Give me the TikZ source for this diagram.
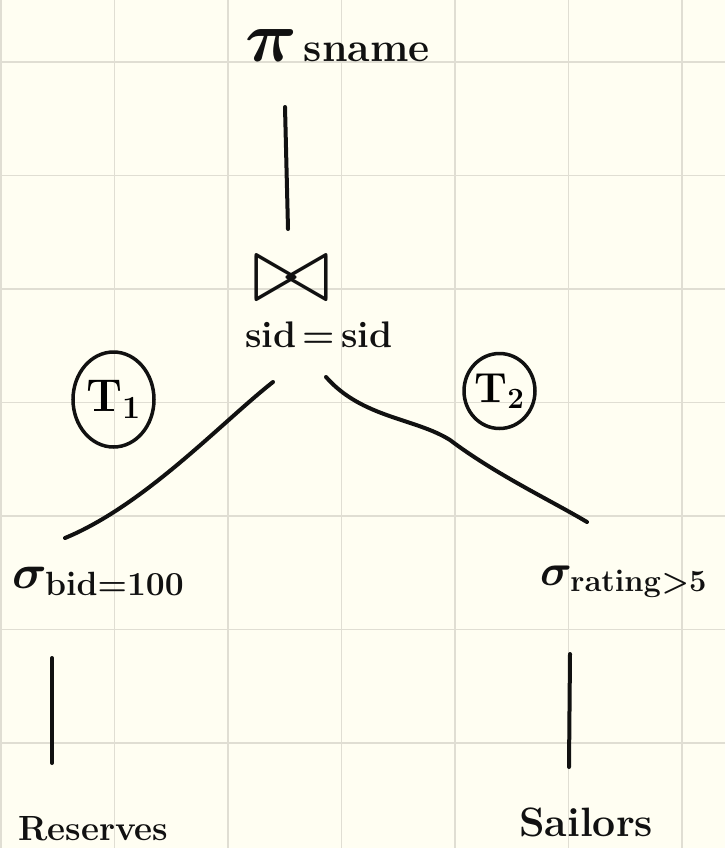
\RequirePackage{fix-cm}
\documentclass[tikz,border=0pt]{standalone}
\usetikzlibrary{shapes.geometric}
\definecolor{paper}{HTML}{FFFEF2}
\definecolor{gridc}{HTML}{E0DED3}
\definecolor{inkc}{HTML}{111111}
\begin{document}
\begin{tikzpicture}[x=1pt,y=-1pt,
  ink/.style={draw=inkc, line width=4pt, line cap=round, line join=round},
  lbl/.style={inner sep=0pt, text=inkc},
  ring/.style={draw=inkc, line width=3.5pt, ellipse, inner sep=0pt},
  gridline/.style={draw=gridc, line width=1.6pt}]
% paper and squared grid
\fill[paper] (0,0) rectangle (725,848);
\useasboundingbox (0,0) rectangle (725,848);
\foreach \gx in {1,114.5,...,700} \draw[gridline] (\gx,0) -- (\gx,848);
\foreach \gy in {62,175.5,...,800} \draw[gridline] (0,\gy) -- (725,\gy);

% operators of the query tree
\node[lbl, anchor=base west, font=\fontsize{41}{48}\selectfont\bfseries\boldmath] (proj) at (245,62)
  {{\fontsize{72}{72}\selectfont$\pi$}\,sname};
\node[lbl, font=\fontsize{96}{96}\selectfont] (join) at (291,279) {$\bowtie$};
\node[lbl, anchor=base west, font=\fontsize{37}{44}\selectfont\bfseries] (cond) at (245,347) {sid\,=\,sid};
\node[ring, minimum width=81pt, minimum height=95pt, font=\fontsize{46}{50}\selectfont\bfseries\boldmath] (t1) at (113.5,399.5) {T$_1$};
\node[ring, minimum width=71pt, minimum height=75pt, font=\fontsize{42}{46}\selectfont\bfseries\boldmath] (t2) at (499.5,391) {T$_2$};
\node[lbl, anchor=base west, font=\fontsize{48}{54}\selectfont\boldmath] (selL) at (12,588) {$\sigma_{\mathbf{bid}=\mathbf{100}}$};
\node[lbl, anchor=base west, font=\fontsize{44}{50}\selectfont\boldmath] (selR) at (540,585) {$\sigma_{\mathbf{rating}>\mathbf{5}}$};
\node[lbl, anchor=base west, font=\fontsize{35}{42}\selectfont\bfseries] (res) at (18,840) {Reserves};
\node[lbl, anchor=base west, font=\fontsize{41}{48}\selectfont\bfseries] (sail) at (519,836) {Sailors};

% connector ends
\coordinate (projB) at (285,107);
\coordinate (joinT) at (288,229);
\coordinate (condL) at (273,382);
\coordinate (selLT) at (65,538);
\coordinate (condR) at (326,377);
\coordinate (selRM) at (450,440);
\coordinate (selRT) at (587,522);
\coordinate (selLB) at (52,658);
\coordinate (resT) at (52,763);
\coordinate (selRB) at (570,654);
\coordinate (sailT) at (569,767);

% edges
\draw[ink] (projB) -- (joinT);
\draw[ink] (condL) .. controls (222,422) and (145,505) .. (selLT);
\draw[ink] (condR) .. controls (362,418) and (415,418) .. (selRM)
               .. controls (495,474) and (550,500) .. (selRT);
\draw[ink] (selLB) -- (resT);
\draw[ink] (selRB) -- (sailT);
\end{tikzpicture}
\end{document}
